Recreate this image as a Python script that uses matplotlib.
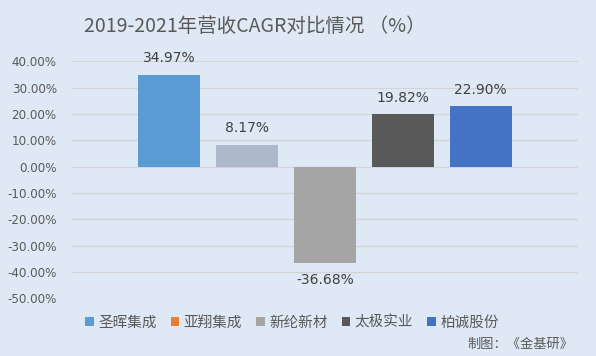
import numpy as np
from matplotlib import pyplot as plt
from matplotlib.patches import Patch
from matplotlib.ticker import FuncFormatter

plt.rcParams['font.family'] = ['DejaVu Sans', 'Noto Sans CJK SC']

companies = ['圣晖集成', '亚翔集成', '新纶新材', '太极实业', '柏诚股份']
cagr = [34.97, 8.17, -36.68, 19.82, 22.90]
bar_colors = ['#5b9bd5', '#adb9ca', '#a5a5a5', '#595959', '#4472c4']
legend_colors = ['#5b9bd5', '#ed7d31', '#a5a5a5', '#595959', '#4472c4']
yticks = np.arange(-50, 41, 10)

bg = '#dee9f5'
txt = '#595959'

fig = plt.figure(figsize=(5.96, 3.56), dpi=100, facecolor=bg)
ax = fig.add_axes([0.1208, 0.1621, 0.8490, 0.6657], facecolor=bg)

x = np.arange(len(cagr))
bars = ax.bar(x, cagr, width=0.795, color=bar_colors, zorder=3)

for xi, v in zip(x, cagr):
    off = 12 if v >= 0 else -12
    ax.annotate('%.2f%%' % v, (xi, v), xytext=(0, off), textcoords='offset points',
                ha='center', va='center', fontsize=10, color='#404040')

ax.set_xlim(-1.25, 5.25)
ax.set_ylim(-50, 40)
ax.set_yticks(yticks)
ax.yaxis.set_major_formatter(FuncFormatter(lambda v, p: '%.2f%%' % v))
ax.set_xticks([])
ax.grid(axis='y', color='#d4d4d4', linewidth=0.9, zorder=0)
ax.tick_params(axis='y', length=0, pad=11, labelsize=8.6, labelcolor=txt)
for s in ax.spines.values():
    s.set_visible(False)

fig.text(0.428, 0.925, '2019-2021年营收CAGR对比情况 （%）', ha='center', va='center',
         fontsize=14, color=txt, family=['Noto Sans CJK SC', 'DejaVu Sans'])

handles = [Patch(facecolor=c, label=n) for c, n in zip(legend_colors, companies)]
fig.legend(handles=handles, loc='center', bbox_to_anchor=(0.49, 0.093), ncol=5,
           frameon=False, labelcolor=txt, handlelength=0.6,
           handleheight=0.6, handletextpad=0.3, columnspacing=0.95,
           prop={'family': ['Noto Sans CJK SC'], 'size': 10.5})

fig.text(0.962, 0.033, '制图：《金基研》', ha='right', va='center', fontsize=9.5,
         color=txt, family=['Noto Sans CJK SC'])

fig.savefig('out.png', dpi=100, facecolor=bg)
